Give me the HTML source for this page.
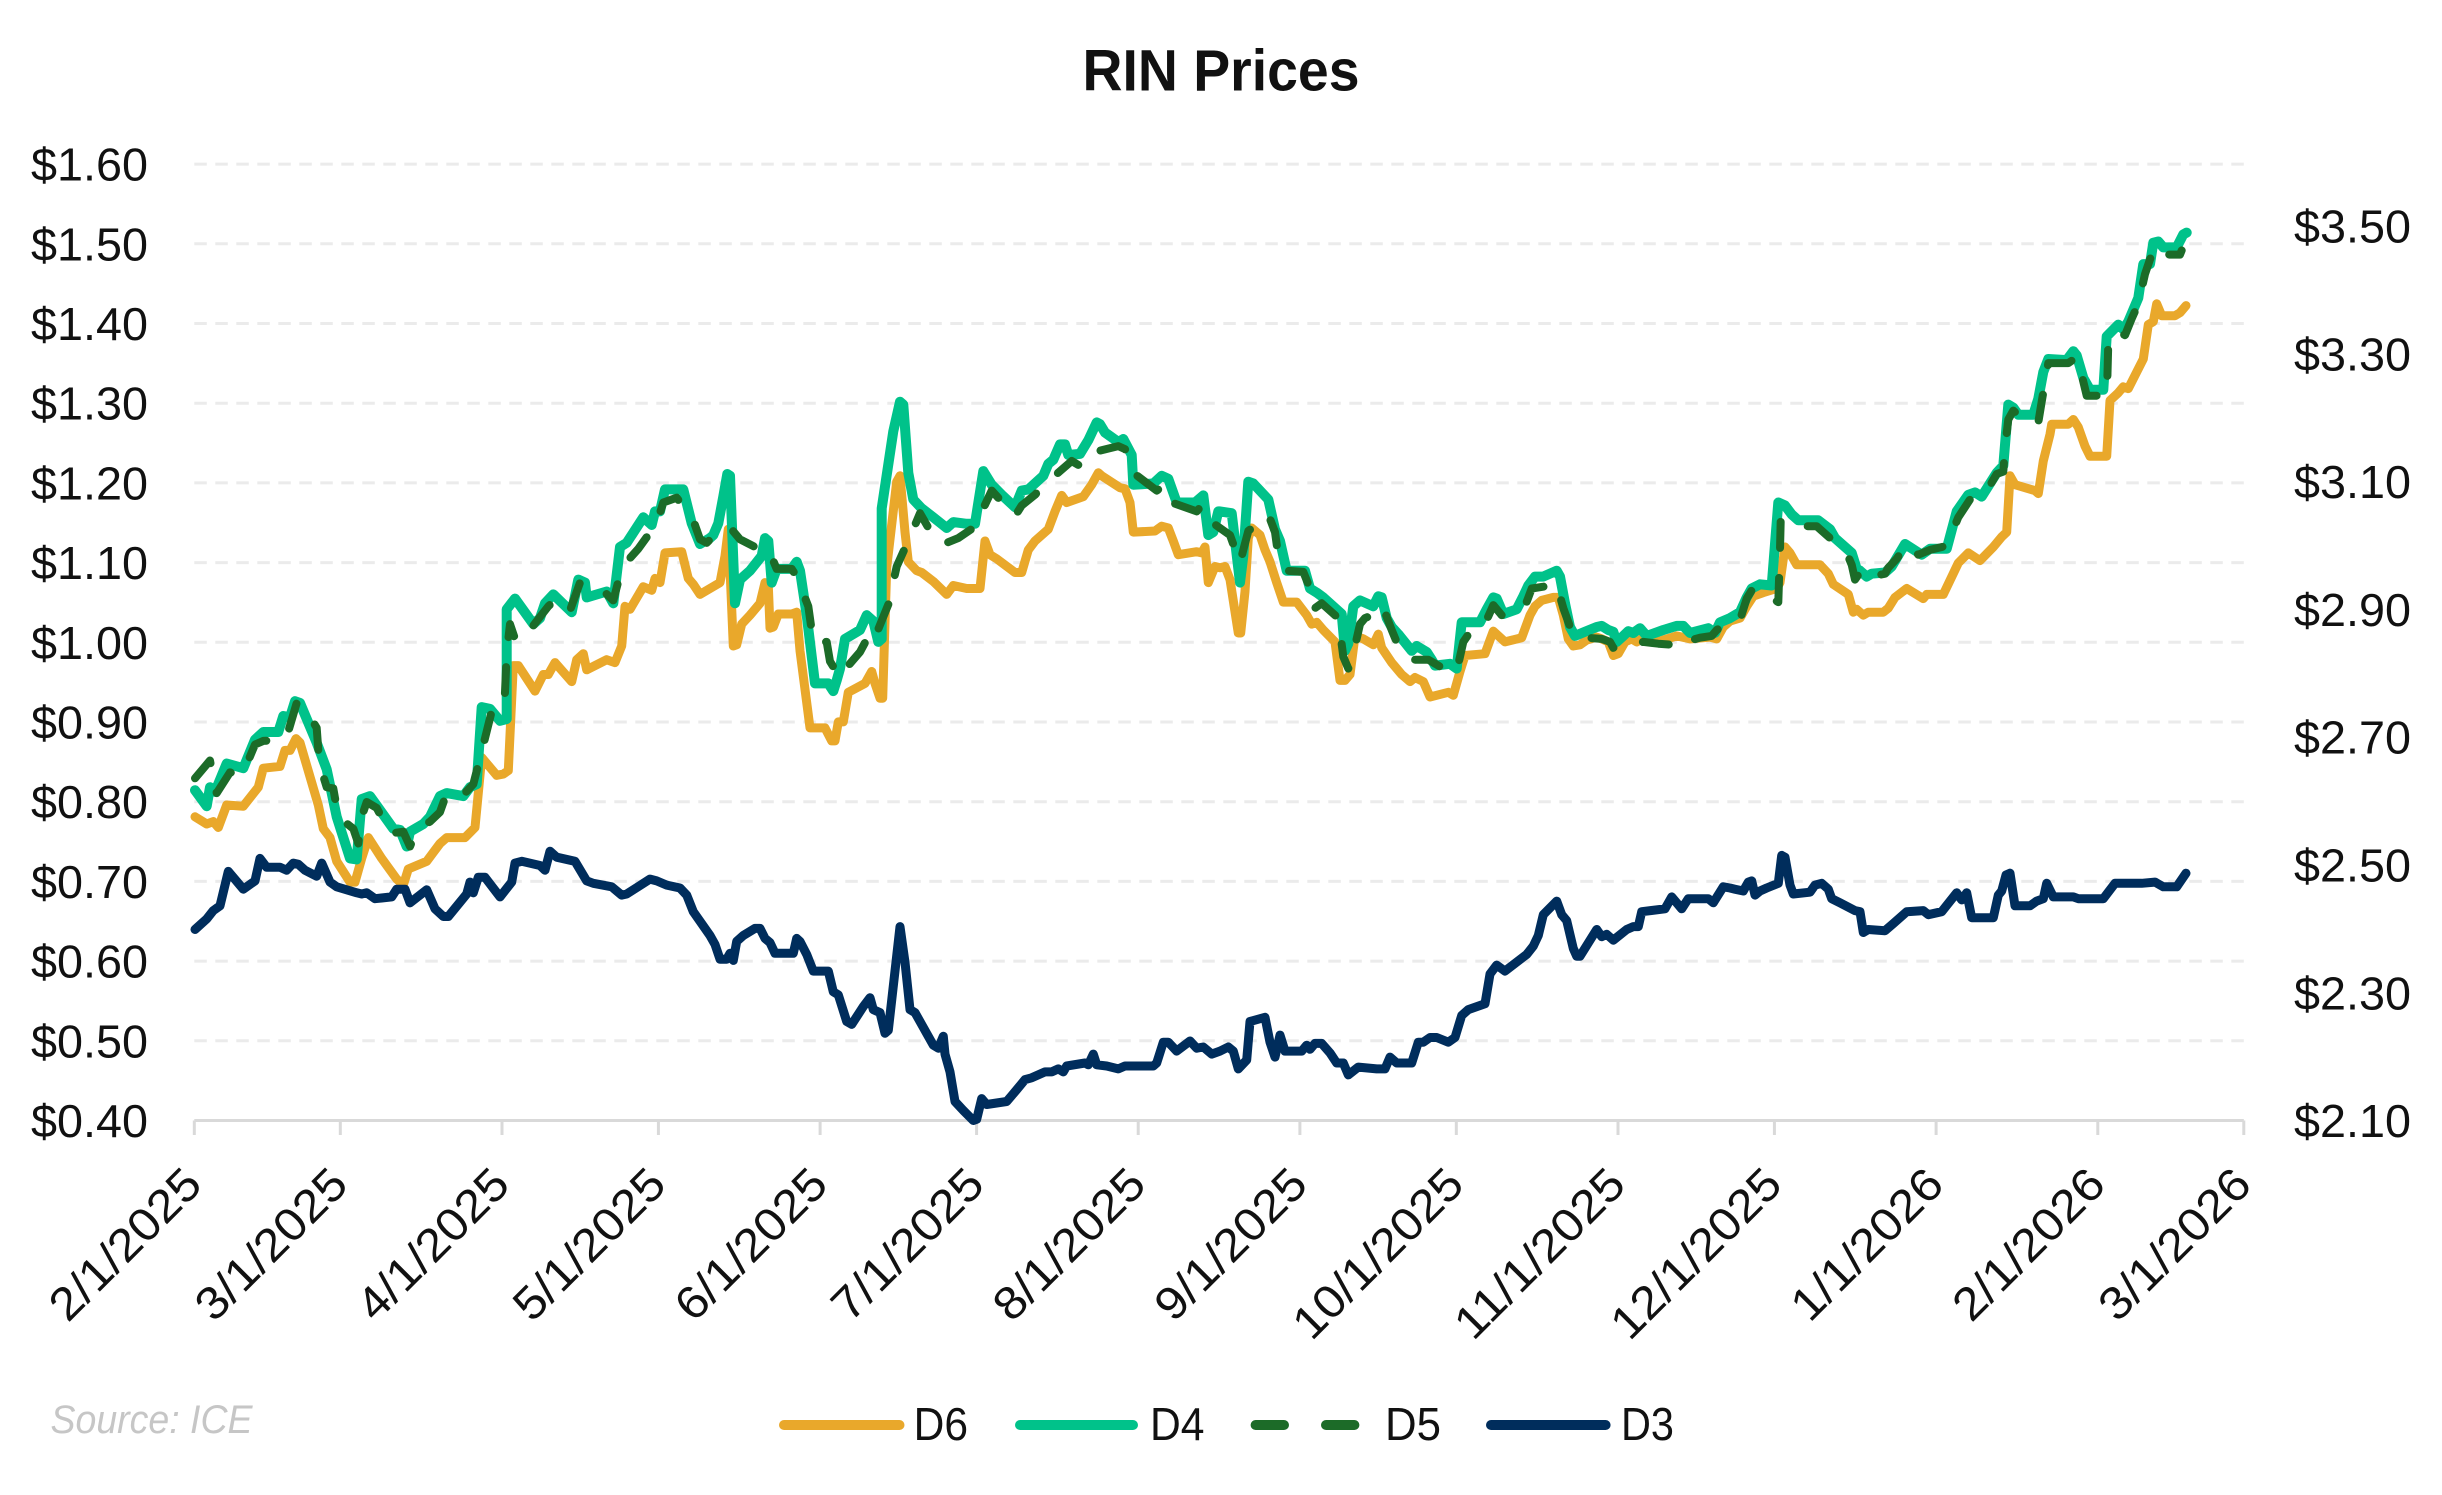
<!DOCTYPE html>
<html><head><meta charset="utf-8"><style>
html,body{margin:0;padding:0;background:#fff;}
svg{display:block;}
text{font-family:"Liberation Sans",Arial,sans-serif;fill:#111;}
</style></head><body>
<svg id="c" width="2442" height="1495" viewBox="0 0 2442 1495" xmlns="http://www.w3.org/2000/svg">
<rect width="2442" height="1495" fill="#fff"/>
<text x="1221" y="90.5" text-anchor="middle" font-size="58" font-weight="bold" textLength="277" lengthAdjust="spacingAndGlyphs">RIN Prices</text>
<g id="grid" stroke="#ebebeb" stroke-width="3" stroke-dasharray="12.5 8.5"></g>
<g id="ylab" font-size="46"></g>
<g id="axis"></g>
<g id="xlab" font-size="46"></g>
<g id="series" fill="none" stroke-linejoin="round" stroke-linecap="round" stroke-width="9"></g>
<text x="50.5" y="1433" font-size="40" font-style="italic" style="fill:#c6c6c6" textLength="202" lengthAdjust="spacingAndGlyphs">Source: ICE</text>
<g stroke-linecap="round" stroke-width="10" fill="none">
<line x1="784" y1="1425" x2="899.5" y2="1425" stroke="#E9A82B"/>
<line x1="1020" y1="1425" x2="1133" y2="1425" stroke="#00C28A"/>
<line x1="1255.6" y1="1425" x2="1354.4" y2="1425" stroke="#1C6B28" stroke-dasharray="28.4 42"/>
<line x1="1491" y1="1425" x2="1605.6" y2="1425" stroke="#002D5C"/>
</g>
<g font-size="46">
<text x="913.6" y="1440" textLength="54.4" lengthAdjust="spacingAndGlyphs">D6</text>
<text x="1150" y="1440" textLength="54.5" lengthAdjust="spacingAndGlyphs">D4</text>
<text x="1385" y="1440" textLength="56" lengthAdjust="spacingAndGlyphs">D5</text>
<text x="1621" y="1440" textLength="53" lengthAdjust="spacingAndGlyphs">D3</text>
</g>
</svg>
<script>
(function(){
var NS="http://www.w3.org/2000/svg";
function el(parent,tag,attrs,txt){var e=document.createElementNS(NS,tag);for(var k in attrs)e.setAttribute(k,attrs[k]);if(txt!==undefined)e.textContent=txt;parent.appendChild(e);return e;}
var X0=194.3,X1=2243.8,YB=1120.5;
var grid=document.getElementById('grid');
for(var i=1;i<=12;i++){var y=YB-i*79.7;el(grid,'line',{x1:X0,y1:y.toFixed(1),x2:X1,y2:y.toFixed(1)});}
var yl=document.getElementById('ylab');
for(var i=0;i<=12;i++){var v=0.4+i*0.1;var y=YB-i*79.7+16.5;el(yl,'text',{x:148,y:y.toFixed(1),'text-anchor':'end',textLength:117,lengthAdjust:'spacingAndGlyphs'},'$'+v.toFixed(2));}
var rv=['3.50','3.30','3.10','2.90','2.70','2.50','2.30','2.10'];
for(var i=0;i<rv.length;i++){var c=226+i*127.8;el(yl,'text',{x:2294,y:(c+16.5).toFixed(1),textLength:117,lengthAdjust:'spacingAndGlyphs'},'$'+rv[i]);}
var ax=document.getElementById('axis');
el(ax,'line',{x1:X0,y1:YB,x2:X1,y2:YB,stroke:'#d9d9d9','stroke-width':3});
var dates=[['2/1/2025',0],['3/1/2025',28],['4/1/2025',59],['5/1/2025',89],['6/1/2025',120],['7/1/2025',150],['8/1/2025',181],['9/1/2025',212],['10/1/2025',242],['11/1/2025',273],['12/1/2025',303],['1/1/2026',334],['2/1/2026',365],['3/1/2026',393]];
var xl=document.getElementById('xlab');
var ppd=(X1-X0)/393;
dates.forEach(function(d){var x=X0+d[1]*ppd;
 el(ax,'line',{x1:x.toFixed(1),y1:YB,x2:x.toFixed(1),y2:1135,stroke:'#d9d9d9','stroke-width':3});
 var ax_=x+10,ay=1187;var len=d[0].length===9?219:193;
 el(xl,'text',{x:ax_.toFixed(1),y:ay,'text-anchor':'end',transform:'rotate(-45 '+ax_.toFixed(1)+' '+ay+')',textLength:len,lengthAdjust:'spacingAndGlyphs'},d[0]);
});
var S=[[190,200],[700,200],[1210,200],[1720,200]];
function build(strips){var pts=[];var bound=-1;
 strips.forEach(function(arr,k){var ox=S[k][0],oy=S[k][1];
  for(var i=0;i<arr.length;i+=2){var x=ox+arr[i]/3,y=oy+arr[i+1]/1.686;if(k>0&&x<=bound)continue;pts.push([x,y]);}
  if(pts.length)bound=pts[pts.length-1][0];
 });
 return 'M'+pts.map(function(p){return p[0].toFixed(1)+','+p[1].toFixed(1);}).join('L');}
var D6=[
[15,1040,50,1052,70,1048,85,1058,110,1020,160,1022,205,990,220,958,270,955,285,928,300,928,318,908,330,915,385,1020,400,1060,420,1075,440,1115,480,1150,495,1150,515,1110,535,1075,575,1110,620,1145,640,1155,655,1128,710,1115,730,1100,750,1085,770,1075,825,1075,855,1058,875,940,920,970,940,968,955,962,970,785,985,785,1035,828,1060,800,1075,800,1095,780,1145,812,1160,775,1180,765,1190,792,1250,775,1275,780,1295,752,1305,685,1320,690,1360,652,1385,658,1395,638,1410,645,1425,595,1475,593,1495,638,1510,648,1530,665,1560,655],
[20,660,60,645,75,600,85,555,100,752,110,750,125,715,150,700,180,680,195,645,205,650,210,722,220,720,235,698,275,698,290,695,300,760,330,890,375,890,395,912,405,912,415,880,430,880,445,830,495,815,515,795,525,815,540,840,548,840,560,620,590,475,600,465,615,560,625,610,650,625,665,628,700,643,740,665,760,650,800,655,840,655,855,575,870,598,890,605,945,628,965,628,985,590,1005,575,1045,555,1065,525,1085,498,1100,510,1150,500,1175,480,1195,460,1205,465,1260,485,1275,487,1290,510,1300,560,1365,558,1385,550,1405,553,1420,575,1435,598,1490,593,1505,595,1515,585,1525,645,1545,618,1560,620],
[0,640,15,618,45,618,60,640,85,730,92,730,105,660,115,570,125,553,150,565,165,590,180,610,200,645,220,678,260,678,290,700,305,715,320,712,340,725,375,745,390,810,405,810,420,800,435,735,460,740,490,750,505,732,515,755,545,780,575,800,600,812,615,805,640,812,660,838,715,830,730,835,750,795,765,768,825,765,840,742,850,727,885,745,935,738,960,700,975,685,995,675,1030,670,1045,670,1060,700,1075,740,1090,752,1110,750,1130,742,1160,737,1175,740,1195,745,1210,768,1225,765,1245,745,1265,740,1280,745,1300,738,1320,737,1340,745,1360,742,1400,735,1440,740,1500,737,1520,740,1540,720,1560,710],
[0,712,60,705,80,685,100,668,130,662,170,655,180,645,195,585,210,595,230,615,300,615,325,630,340,648,385,665,400,695,410,690,430,700,445,695,490,695,505,688,525,670,560,655,610,672,620,665,670,665,715,612,745,595,780,608,820,585,845,568,860,560,870,465,885,480,945,490,955,495,970,440,990,395,995,378,1045,378,1060,370,1075,383,1095,415,1110,432,1160,432,1170,338,1195,325,1210,315,1225,318,1270,268,1285,210,1300,205,1310,175,1325,195,1365,195,1380,190,1398,178]];
var D4=[
[15,995,50,1022,60,990,75,998,110,950,160,958,195,910,220,897,265,897,280,870,300,872,315,845,330,848,380,915,410,960,440,1040,480,1110,500,1112,515,1010,540,1005,610,1060,630,1062,650,1090,660,1065,700,1052,720,1040,750,1005,770,1000,820,1005,840,990,860,985,875,855,900,858,930,878,950,875,950,690,975,672,1030,715,1050,705,1065,680,1090,665,1110,676,1145,695,1165,640,1185,645,1190,670,1250,660,1270,680,1290,585,1310,578,1360,535,1385,548,1395,525,1410,525,1425,488,1480,488,1505,545,1530,580,1560,570],
[40,565,55,545,70,500,82,462,90,465,105,680,120,640,150,625,185,600,195,570,205,575,215,645,230,622,275,622,290,610,300,625,320,700,345,815,385,815,400,828,410,810,420,790,435,740,480,725,500,700,520,710,535,745,545,740,545,520,580,390,600,340,610,345,625,460,640,505,665,520,700,535,740,553,760,543,800,546,825,546,850,457,875,480,905,497,945,518,965,490,985,488,1030,465,1045,445,1060,438,1080,412,1095,412,1105,430,1140,428,1165,405,1190,375,1200,378,1215,392,1255,408,1270,403,1295,430,1300,480,1360,478,1385,465,1405,470,1430,510,1485,510,1510,498,1525,565,1540,560,1555,525,1560,525],
[0,528,15,528,65,528,90,645,100,600,115,475,130,478,175,505,195,555,210,575,230,625,285,625,300,655,320,662,340,670,395,698,405,760,415,748,430,685,450,675,490,685,505,668,515,670,530,705,545,720,565,732,605,760,620,752,650,762,665,775,675,785,720,782,740,790,755,712,810,712,830,690,850,670,860,672,880,698,920,690,940,668,955,650,975,635,1000,635,1040,625,1050,635,1065,680,1080,720,1095,735,1125,728,1160,720,1175,718,1195,725,1210,728,1220,745,1240,735,1255,727,1270,730,1290,722,1310,735,1360,725,1400,718,1420,718,1440,730,1495,722,1515,730,1530,712,1560,705],
[0,705,20,700,60,695,80,670,95,655,120,648,155,650,175,510,195,515,215,530,235,540,295,540,330,555,345,570,395,595,410,622,420,625,440,635,455,630,495,628,515,618,555,580,605,598,630,588,680,588,710,525,745,497,765,493,785,500,830,460,850,448,865,345,880,350,895,362,940,362,955,335,970,290,985,268,1040,270,1060,255,1070,262,1090,300,1110,320,1150,320,1160,230,1195,210,1210,218,1225,205,1255,165,1270,108,1290,108,1300,72,1315,70,1330,80,1370,80,1390,58,1400,55]];
var D5=[
[15,975,60,945,70,975,80,1000,120,965,150,970,175,945,195,918,220,912,280,910,290,905,320,848,340,852,380,890,388,950,410,990,430,992,445,1040,490,1060,505,1085,515,1040,530,1015,560,1025,600,1068,640,1065,660,1090,680,1062,720,1048,750,1032,770,1000,820,1003,850,985,875,930,905,862,940,855,945,830,950,765,960,715,975,740,985,745,1000,740,1040,710,1075,685,1100,672,1140,692,1170,645,1190,648,1245,662,1270,675,1290,632,1310,610,1345,588,1400,545,1420,510,1460,502,1510,540,1530,572,1550,578],
[35,570,90,552,120,572,165,585,200,585,215,602,230,622,275,622,290,635,325,685,340,745,380,745,390,778,420,805,445,785,480,762,520,720,530,730,565,682,590,618,630,568,660,528,710,577,740,578,775,570,840,545,850,520,875,490,945,533,965,515,1005,497,1040,475,1070,462,1115,440,1145,450,1160,435,1190,424,1255,415,1275,420,1300,460,1370,490,1395,480,1425,512,1490,525,1505,515,1535,545],
[0,530,10,545,60,565,90,612,100,590,115,558,175,530,195,560,205,600,230,625,280,627,300,655,310,690,335,680,385,705,400,770,415,790,430,765,450,715,465,705,495,698,505,685,520,688,545,725,565,752,600,775,655,775,700,790,740,795,760,745,800,712,830,708,850,683,875,700,920,692,945,685,965,655,1000,652,1040,648,1060,688,1090,735,1130,738,1175,740,1200,745,1210,755,1245,750,1300,745,1345,748,1390,750,1405,740,1425,745,1470,738,1505,735,1520,725,1555,712],
[0,720,20,712,60,708,80,672,95,658,115,655,150,670,175,678,180,590,182,540,195,540,230,550,290,550,320,565,350,580,380,595,395,615,405,640,415,632,435,645,455,635,495,630,505,620,530,605,560,580,595,598,630,590,680,583,715,535,750,505,790,500,830,462,850,458,855,418,865,370,880,355,930,378,955,375,965,340,985,275,1045,275,1070,265,1085,295,1100,330,1160,330,1162,305,1165,240,1180,238,1195,222,1215,228,1235,200,1255,175,1275,125,1290,100,1305,80,1320,92,1380,92,1385,85]];
var D3=[
[15,1230,50,1212,70,1198,90,1190,115,1132,160,1162,195,1148,210,1110,230,1125,270,1125,290,1130,310,1118,325,1120,345,1130,380,1140,395,1118,420,1150,440,1158,500,1168,515,1170,530,1168,555,1178,605,1175,620,1162,645,1162,660,1185,710,1163,735,1195,760,1208,775,1208,830,1170,840,1150,850,1168,865,1142,885,1142,930,1175,965,1150,975,1118,995,1115,1050,1122,1065,1130,1080,1098,1100,1108,1155,1115,1190,1148,1210,1152,1265,1158,1295,1172,1310,1170,1380,1145,1400,1148,1430,1155,1470,1160,1490,1172,1510,1200,1560,1240],
[45,1255,60,1280,80,1280,90,1270,100,1282,110,1250,130,1240,165,1228,180,1228,195,1245,210,1252,225,1270,280,1270,290,1245,300,1250,320,1272,340,1300,385,1300,400,1335,415,1340,440,1385,455,1390,490,1360,510,1345,520,1365,540,1370,555,1405,565,1400,600,1225,615,1285,630,1365,645,1370,700,1425,715,1430,730,1410,735,1440,750,1470,765,1520,790,1535,820,1552,830,1550,845,1515,860,1525,920,1520,935,1510,950,1500,975,1483,995,1480,1035,1470,1055,1470,1075,1465,1090,1470,1100,1460,1155,1455,1165,1458,1180,1440,1190,1458,1220,1460,1255,1465,1275,1460,1360,1460,1370,1455,1390,1420,1405,1420,1430,1435,1470,1418,1490,1430,1510,1428,1535,1440,1560,1435],
[0,1440,20,1440,55,1428,70,1435,85,1465,110,1450,120,1385,165,1378,180,1420,195,1445,210,1408,225,1435,275,1435,290,1425,300,1432,315,1422,335,1422,360,1438,380,1455,400,1455,415,1475,445,1462,500,1465,525,1465,540,1445,560,1455,605,1455,625,1420,640,1420,660,1412,680,1412,715,1420,735,1412,755,1375,775,1365,825,1355,840,1305,860,1290,885,1300,950,1272,970,1258,985,1240,1000,1205,1040,1182,1055,1205,1070,1215,1090,1262,1100,1275,1110,1275,1160,1230,1175,1242,1190,1238,1210,1248,1250,1230,1270,1225,1285,1225,1295,1200,1365,1195,1385,1175,1415,1195,1435,1178,1495,1178,1510,1185,1540,1158,1560,1160],
[0,1180,15,1158,45,1162,70,1165,85,1150,95,1148,105,1172,120,1165,140,1160,175,1152,185,1105,195,1108,210,1155,220,1170,270,1167,285,1155,305,1152,325,1162,335,1178,360,1185,405,1198,420,1200,430,1235,445,1230,495,1232,520,1220,560,1200,610,1198,625,1205,665,1200,710,1168,725,1180,740,1168,755,1210,820,1210,835,1172,845,1165,858,1138,870,1135,885,1190,930,1190,950,1182,970,1178,980,1152,1000,1175,1060,1175,1075,1178,1150,1178,1185,1152,1265,1152,1305,1150,1330,1158,1370,1158,1398,1135]];
var sg=document.getElementById('series');
el(sg,'path',{d:build(D6),stroke:'#E9A82B','stroke-width':9});
el(sg,'path',{d:build(D4),stroke:'#00C28A','stroke-width':10});
el(sg,'path',{d:build(D5),stroke:'#1C6B28','stroke-width':8,'stroke-dasharray':'26 30'});
el(sg,'path',{d:build(D3),stroke:'#002D5C','stroke-width':9});
})();
</script>
</body></html>
